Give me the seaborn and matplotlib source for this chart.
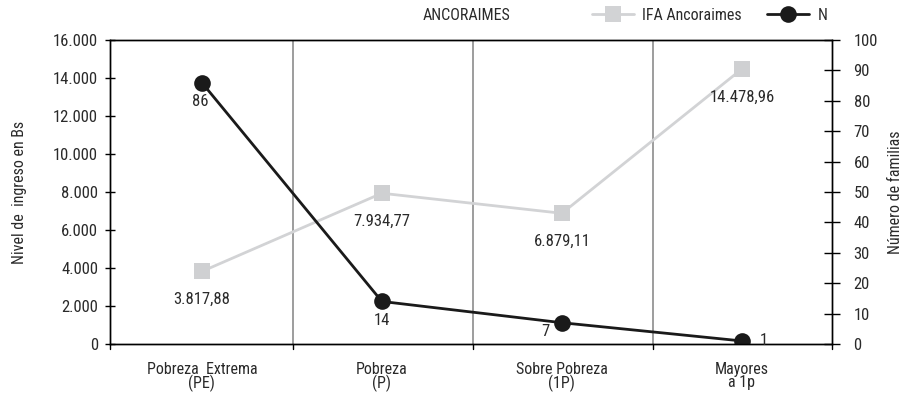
import matplotlib
matplotlib.use("Agg")
import matplotlib.pyplot as plt
import seaborn as sns
import pandas as pd
from matplotlib.lines import Line2D
from matplotlib.ticker import FuncFormatter

categories = ["Pobreza  Extrema\n(PE)", "Pobreza\n(P)", "Sobre Pobreza\n(1P)", "Mayores\na 1p"]
ifa_values = [3817.88, 7934.77, 6879.11, 14478.96]
ifa_labels = ["3.817,88", "7.934,77", "6.879,11", "14.478,96"]
n_values = [86, 14, 7, 1]
n_labels = ["86", "14", "7", "1"]

sns.set_theme(style="white")
plt.rcParams['font.family'] = ['Liberation Sans Narrow', 'Roboto Condensed', 'Liberation Sans', 'DejaVu Sans']
plt.rcParams['font.size'] = 11
txt = "#2a2a2a"

df = pd.DataFrame({"pos": range(len(categories)), "ifa": ifa_values, "n": n_values})

fig = plt.figure(figsize=(9.05, 3.93), dpi=100)
L, R, B, T = 110, 832, 344, 40
ax = fig.add_axes([L / 905, (393 - B) / 393, (R - L) / 905, (B - T) / 393])
ax2 = ax.twinx()

gray = "#d2d3d5"
black = "#1a1a1a"

sns.lineplot(data=df, x="pos", y="ifa", ax=ax, color=gray, lw=2, marker="s",
             markersize=12, markeredgewidth=0, markerfacecolor="#cfd0d2", legend=False)
sns.lineplot(data=df, x="pos", y="n", ax=ax2, color=black, lw=2, marker="o",
             markersize=12, markeredgewidth=0, markerfacecolor=black, legend=False)

ax.set_xlim(-0.51, 3.5)
ax.set_ylim(0, 16000)
ax2.set_ylim(0, 100)
ax.set_yticks(range(0, 16001, 2000))
ax.yaxis.set_major_formatter(FuncFormatter(lambda v, p: f"{int(v):,}".replace(",", ".")))
ax2.set_yticks(range(0, 101, 10))
ax.set_xticks(range(len(categories)))
ax.set_xticklabels(categories, fontsize=11.5, linespacing=0.85)
ax.tick_params(axis="x", length=0, pad=13, labelcolor=txt)
ax.set_xlabel("")
ax.set_ylabel("Nivel de  ingreso en Bs", fontsize=11.5, labelpad=19, color=txt)
ax2.set_ylabel("Número de familias", fontsize=11.5, labelpad=7, color=txt)
ax.tick_params(axis="y", direction="inout", length=7, width=1, colors="black", labelcolor=txt, labelsize=12, pad=5)
ax2.tick_params(axis="y", direction="inout", length=11, width=1, colors="black", labelcolor=txt, labelsize=12, pad=10)

# boundary ticks on x axis
for b in [-0.51, 0.506, 1.506, 2.506, 3.5]:
    ax.plot([b, b], [0, -250], color="black", lw=1, clip_on=False)
for b in [0.506, 1.506, 2.506]:
    ax.axvline(b, color="#8c8c8c", lw=1.2, zorder=0)

for a in (ax, ax2):
    for s in a.spines.values():
        s.set_color("black")
        s.set_linewidth(1)
    a.grid(False)

# annotations
for i, (v, t) in enumerate(zip(ifa_values, ifa_labels)):
    ax.annotate(t, (i, v), xytext=(0, -15), textcoords="offset points",
                ha="center", va="top", fontsize=12, color=txt)
n_off = [(-1, -8, "center", "top"), (0, -8, "center", "top"), (-9, -6, "right", "center"), (13, 0, "left", "center")]
for i, (v, t) in enumerate(zip(n_values, n_labels)):
    dx, dy, ha, va = n_off[i]
    ax2.annotate(t, (i, v), xytext=(dx, dy), textcoords="offset points",
                 ha=ha, va=va, fontsize=12, color=txt)

fig.text(466 / 905, 1 - 16 / 393, "ANCORAIMES", ha="center", va="center", fontsize=11.5, color=txt)

handles = [Line2D([], [], color=gray, lw=2, marker="s", markersize=12, markeredgewidth=0),
           Line2D([], [], color=black, lw=2, marker="o", markersize=12, markeredgewidth=0)]
fig.legend(handles, ["IFA Ancoraimes", "N"], loc="center left", bbox_to_anchor=(592 / 905, 1 - 15 / 393),
           ncol=2, frameon=False, fontsize=11.5, handlelength=2.6, columnspacing=1.6, handletextpad=0.55,
           borderaxespad=0, borderpad=0, labelcolor=txt)

fig.savefig("out.png", dpi=100)
